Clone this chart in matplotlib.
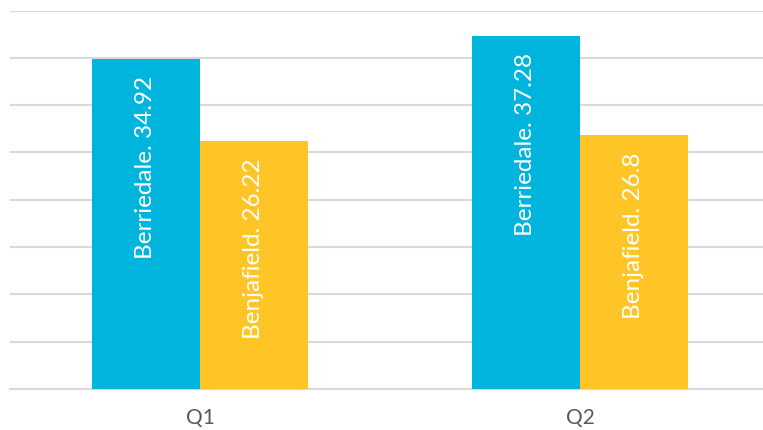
import matplotlib

matplotlib.use("Agg")
import matplotlib.pyplot as plt
import numpy as np

quarters = ["Q1", "Q2"]
series_names = ["Berriedale", "Benjafield"]
berriedale = [34.92, 37.28]
benjafield = [26.22, 26.8]
colors = ["#00B5DD", "#FFC426"]

plt.rcParams["font.family"] = ["Lato", "DejaVu Sans"]

fig = plt.figure(figsize=(7.63, 4.31), dpi=100)
ax = fig.add_axes([10 / 763, 41 / 431, 753 / 763, 378.5 / 431])

x = np.arange(len(quarters))
width = 108 / 380
for i, (name, vals, col) in enumerate(zip(series_names, [berriedale, benjafield], colors)):
    pos = x + (i - 0.5) * width
    bars = ax.bar(pos, vals, width, color=col, zorder=2)
    # value label inside the top of each bar, rotated
    for b, v in zip(bars, vals):
        ax.annotate(f"{name}. {v:g}", (b.get_x() + b.get_width() / 2, v),
                    xytext=(0, -16), textcoords="offset pixels",
                    rotation=90, ha="center", va="top",
                    color="white", fontsize=17.5, zorder=3)

ax.set_xlim(-0.5, 1.5 - 7 / 380)
ax.set_ylim(0, 40)
ax.set_yticks(np.arange(0, 41, 5))
ax.yaxis.grid(True, color="#D9D9D9", linewidth=1.5, zorder=0)
ax.tick_params(axis="y", left=False, labelleft=False)
ax.tick_params(axis="x", length=0, pad=13, labelsize=15, labelcolor="#595959")
ax.set_xticks(x)
ax.set_xticklabels(quarters)
for s in ["top", "right", "left"]:
    ax.spines[s].set_visible(False)
ax.spines["bottom"].set_color("#D9D9D9")
ax.spines["bottom"].set_linewidth(1.5)
ax.spines["bottom"].set_zorder(1)

fig.savefig("out.png", dpi=100)
